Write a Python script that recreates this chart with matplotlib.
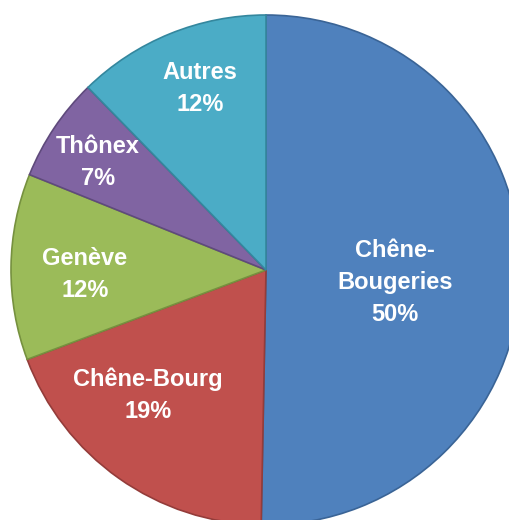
import matplotlib
matplotlib.use("Agg")
import matplotlib.pyplot as plt
import numpy as np

labels = ["Chêne-\nBougeries", "Chêne-Bourg", "Genève", "Thônex", "Autres"]
values = [50.3, 19.0, 11.8, 6.6, 12.3]
pct_text = ["50%", "19%", "12%", "7%", "12%"]
colors = ["#4F81BD", "#C0504D", "#9BBB59", "#8064A2", "#4BACC6"]
edges = ["#3A6496", "#943C3A", "#76913F", "#5F4A7C", "#34879E"]

fig = plt.figure(figsize=(5.10, 5.20), dpi=100)
ax = fig.add_axes([11/510, -5/520, 510/510, 510/520])
wedges, _ = ax.pie(values, colors=colors, startangle=90, counterclock=False,
                   radius=1.0, center=(0, 0),
                   wedgeprops=dict(linewidth=1.2))
for w, ec in zip(wedges, edges):
    w.set_edgecolor(ec)

# label placement: radius fraction and angular offset from wedge mid-angle
label_r = [0.509, 0.674, 0.710, 0.781, 0.759]
label_dang = [-5.2, -8.1, 2.0, 1.3, -2.2]
cum = np.cumsum([0] + values[:-1])
for i, (lab, p) in enumerate(zip(labels, pct_text)):
    mid = 90 - (cum[i] + values[i] / 2) * 3.6 + label_dang[i]
    r = label_r[i]
    x, y = r * np.cos(np.radians(mid)), r * np.sin(np.radians(mid))
    ax.text(x, y, f"{lab}\n{p}", ha="center", va="center", color="white",
            fontsize=17, fontweight="bold", family="Liberation Sans",
            linespacing=1.5)

ax.set_xlim(-1, 1)
ax.set_ylim(-1, 1)
ax.set_aspect("equal")
ax.axis("off")
fig.savefig("out.png", dpi=100)
